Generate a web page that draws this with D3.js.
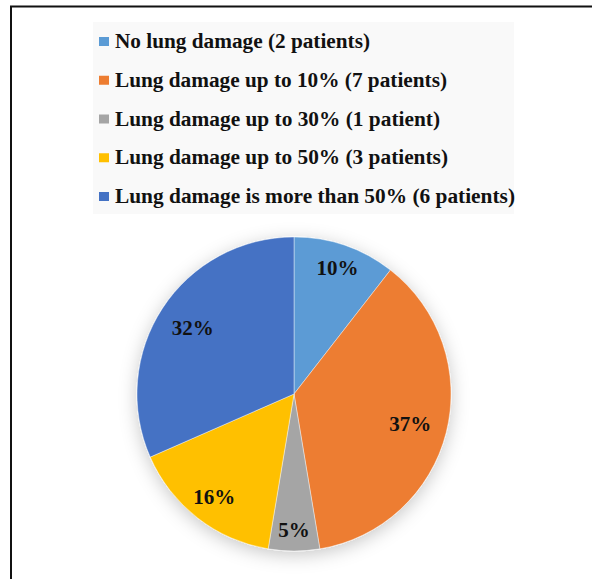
<!DOCTYPE html>
<html>
<head>
<meta charset="utf-8">
<script src="https://cdn.jsdelivr.net/npm/d3@7"></script>
<style>
  html, body { margin: 0; padding: 0; background: #fff; }
  svg { display: block; }
  .serif { font-family: "Liberation Serif", "DejaVu Serif", "Noto Serif", serif; font-weight: bold; }
</style>
</head>
<body>
<svg id="chart" width="592" height="579"></svg>
<script>
// ---- data ----
const categories = [
  "No lung damage (2 patients)",
  "Lung damage up to 10% (7 patients)",
  "Lung damage up to 30% (1 patient)",
  "Lung damage up to 50% (3 patients)",
  "Lung damage is more than 50% (6 patients)"
];
const patients = [2, 7, 1, 3, 6];
const percentLabels = ["10%", "37%", "5%", "16%", "32%"];
const colors = ["#5B9BD5", "#ED7D31", "#A5A5A5", "#FFC000", "#4472C4"];

// ---- layout (not data) ----
const W = 592, H = 579;
const cx = 294, cy = 394, R = 157;
const labelRadii = [134, 120, 136, 130, 121];
const legendTextWidths = [255, 332, 325, 333, 400];

const svg = d3.select("#chart");

// frame lines (top and left)
svg.append("line").attr("x1", 10).attr("x2", W).attr("y1", 6.5).attr("y2", 6.5)
  .attr("stroke", "#111").attr("stroke-width", 2);
svg.append("line").attr("x1", 11).attr("x2", 11).attr("y1", 6).attr("y2", H)
  .attr("stroke", "#111").attr("stroke-width", 2);

// shadow filter
const defs = svg.append("defs");
const f = defs.append("filter").attr("id", "shadow")
  .attr("x", "-30%").attr("y", "-30%").attr("width", "160%").attr("height", "160%");
f.append("feDropShadow").attr("dx", 0).attr("dy", 4).attr("stdDeviation", 9)
  .attr("flood-color", "#000").attr("flood-opacity", 0.22);

// legend
const legend = svg.append("g");
legend.append("rect").attr("x", 93).attr("y", 22).attr("width", 421).attr("height", 192)
  .attr("fill", "#f9f9f9");
const rowY = d3.scalePoint().domain(d3.range(categories.length)).range([48, 203]);
categories.forEach((c, i) => {
  const y = rowY(i);
  legend.append("rect").attr("x", 99).attr("y", y - 11).attr("width", 10).attr("height", 9)
    .attr("fill", colors[i]);
  legend.append("text").attr("class", "serif").attr("x", 115).attr("y", y)
    .style("font-size", "20px").attr("fill", "#111")
    .attr("textLength", legendTextWidths[i]).attr("lengthAdjust", "spacingAndGlyphs")
    .text(c);
});

// pie
const pie = d3.pie().sort(null).value(d => d);
const arcs = pie(patients);
const arc = d3.arc().innerRadius(0).outerRadius(R);
const g = svg.append("g").attr("transform", `translate(${cx},${cy})`);
const slices = g.append("g").attr("filter", "url(#shadow)");
slices.selectAll("path").data(arcs).enter().append("path")
  .attr("d", arc)
  .attr("fill", (d, i) => colors[i])
  .attr("stroke", "#ffffff").attr("stroke-width", 0.6).attr("stroke-opacity", 0.7);

g.selectAll("text.lbl").data(arcs).enter().append("text")
  .attr("class", "lbl serif")
  .attr("transform", (d, i) => {
    const a = d3.arc().innerRadius(labelRadii[i]).outerRadius(labelRadii[i]);
    const [x, y] = a.centroid(d);
    return `translate(${x},${y})`;
  })
  .attr("text-anchor", "middle").attr("dy", "0.35em")
  .style("font-size", "21px").attr("fill", "#111")
  .text((d, i) => percentLabels[i]);
</script>
</body>
</html>
